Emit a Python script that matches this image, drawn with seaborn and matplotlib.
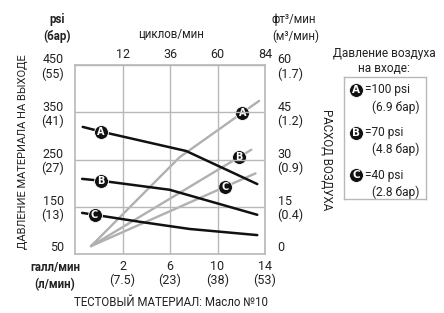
import numpy as np
import pandas as pd
import matplotlib
matplotlib.use("Agg")
import matplotlib.pyplot as plt
import seaborn as sns

# ---- data ----
curves = ["A", "B", "C"]
# fluid outlet pressure (psi) vs flow (gpm)
press_A_gpm = [-1.35, 0.2, 7.36, 13.35]
press_A_psi = [319, 309, 268, 198]
press_B_gpm = [-1.4, 0.2, 5.96, 13.35]
press_B_psi = [209, 205, 186, 133]
press_C_gpm = [-1.4, -0.35, 3.5, 7.64, 13.35]
press_C_psi = [137, 133, 118, 103, 90]
# air consumption (scfm) vs flow (gpm)
air_A_gpm = [-0.65, 6.8, 13.5]
air_A_scfm = [2.5, 30.7, 48.6]
air_B_gpm = [-0.65, 12.85]
air_B_scfm = [2.5, 33.1]
air_C_gpm = [-0.65, 13.2]
air_C_scfm = [2.5, 25.6]

gpm_ticks = [2, 6, 10, 14]
gpm_labels = ["2\n(7.5)", "6\n(23)", "10\n(38)", "14\n(53)"]
cpm_ticks = [12, 36, 60, 84]
psi_ticks = [50, 150, 250, 350, 450]
psi_labels = ["50", "150\n(13)", "250\n(27)", "350\n(41)", "450\n(55)"]
scfm_ticks = [0, 15, 30, 45, 60]
scfm_labels = ["0", "15\n(0.4)", "30\n(0.9)", "45\n(1.2)", "60\n(1.7)"]
legend_psi = ["=100 psi", "=70 psi", "=40 psi"]
legend_bar = ["(6.9 бар)", "(4.8 бар)", "(2.8 бар)"]

# ---- style ----
sns.set_theme(style="white")
FONT = ["Roboto", "DejaVu Sans"]
plt.rcParams["font.family"] = FONT
TXT = "#222222"
GRID = "#b8b8b8"
GRAY = "#b0b0b0"

W, H = 444, 313
fig = plt.figure(figsize=(W / 100, H / 100), dpi=100)
fig.patch.set_facecolor("white")


def fx(x):
    return x / W


def fy(y):
    return 1 - y / H


ax_l, ax_t, ax_r, ax_b = 75, 65, 265, 254
ax = fig.add_axes([fx(ax_l), fy(ax_b), (ax_r - ax_l) / W, (ax_b - ax_t) / H])
ax.set_xlim(-2, 14)
ax.set_ylim(50, 450)
ax2 = ax.twinx()
ax2.set_ylim(0, 60)

press_df = pd.concat([
    pd.DataFrame({"gpm": press_A_gpm, "val": press_A_psi, "curve": "A"}),
    pd.DataFrame({"gpm": press_B_gpm, "val": press_B_psi, "curve": "B"}),
    pd.DataFrame({"gpm": press_C_gpm, "val": press_C_psi, "curve": "C"}),
])
air_df = pd.concat([
    pd.DataFrame({"gpm": air_A_gpm, "val": air_A_scfm, "curve": "A"}),
    pd.DataFrame({"gpm": air_B_gpm, "val": air_B_scfm, "curve": "B"}),
    pd.DataFrame({"gpm": air_C_gpm, "val": air_C_scfm, "curve": "C"}),
])

sns.lineplot(data=air_df, x="gpm", y="val", units="curve", estimator=None,
             sort=False, color=GRAY, lw=1.7, ax=ax2, legend=False)
sns.lineplot(data=press_df, x="gpm", y="val", units="curve", estimator=None,
             sort=False, color="#111111", lw=1.8, ax=ax, legend=False)

# grid + frame
ax.set_xticks(gpm_ticks)
ax.set_yticks(psi_ticks)
ax.grid(True, color=GRID, lw=1.0)
for s in ax.spines.values():
    s.set_color(GRID)
    s.set_linewidth(1.2)
for s in ax2.spines.values():
    s.set_visible(False)
ax.set_zorder(2)
ax.patch.set_visible(False)
ax2.set_zorder(1)

FS = 9
ax.set_xticklabels(gpm_labels, fontsize=FS, color=TXT, linespacing=1.1)
ax.set_yticklabels(psi_labels, fontsize=FS, color=TXT, linespacing=1.1)
ax.tick_params(axis="x", length=0, pad=4)
ax.tick_params(axis="y", length=0, pad=8)
for t in ax.get_yticklabels():
    t.set_multialignment("right")
ax2.set_yticks(scfm_ticks)
ax2.set_yticklabels(scfm_labels, fontsize=FS, color=TXT, linespacing=1.1)
ax2.tick_params(axis="y", length=0, pad=9)
ax.yaxis.get_major_ticks()[0].label1.set_va("bottom")
ax2.yaxis.get_major_ticks()[0].label2.set_va("bottom")
ax.set_xlabel("")
ax.set_ylabel("")
ax2.set_ylabel("")

top = ax.secondary_xaxis("top", functions=(lambda g: g * 6, lambda c: c / 6))
top.set_xticks(cpm_ticks)
top.set_xticklabels([str(c) for c in cpm_ticks], fontsize=FS, color=TXT)
top.tick_params(length=0, pad=3)
top.spines["top"].set_visible(False)


def badge(axis, x, y, letter, fs=7):
    axis.plot([x], [y], "o", ms=10, mfc="#111111", mec="white", mew=0.6, zorder=5)
    axis.text(x, y, letter, color="white", fontsize=fs, fontweight="bold",
              family=["DejaVu Sans"], ha="center", va="center", zorder=6)


# badges on pressure curves
press_sets = [(press_A_gpm, press_A_psi), (press_B_gpm, press_B_psi), (press_C_gpm, press_C_psi)]
press_badge_x = [0.2, 0.2, -0.35]
for (gx, gv), bx, c in zip(press_sets, press_badge_x, curves):
    badge(ax, bx, np.interp(bx, gx, gv), c)
air_sets = [(air_A_gpm, air_A_scfm), (air_B_gpm, air_B_scfm), (air_C_gpm, air_C_scfm)]
air_badge_x = [12.1, 11.8, 10.65]
for (gx, gv), bx, c in zip(air_sets, air_badge_x, curves):
    badge(ax2, bx, np.interp(bx, gx, gv), c)

# axis titles / units
SFS = 8.3
fig.text(fx(57), fy(28), "psi\n(бар)", ha="center", va="center", fontsize=SFS,
         color=TXT, linespacing=1.3, fontweight="bold")
fig.text(fx(171), fy(35), "циклов/мин", ha="center", va="center", fontsize=SFS, color=TXT)
fig.text(fx(272), fy(28), "фт³/мин\n(м³/мин)", ha="left", va="center", fontsize=SFS,
         color=TXT, linespacing=1.3)
fig.text(fx(55), fy(276), "галл/мин\n(л/мин)", ha="center", va="center", fontsize=SFS,
         color=TXT, linespacing=1.3, fontweight="bold")
fig.text(fx(171), fy(302), "ТЕСТОВЫЙ МАТЕРИАЛ: Масло №10", ha="center", va="center",
         fontsize=8.3, color=TXT)
fig.text(fx(23), fy(152), "ДАВЛЕНИЕ МАТЕРИАЛА НА ВЫХОДЕ", rotation=90, ha="center",
         va="center", fontsize=8, color=TXT)
fig.text(fx(327), fy(160), "РАСХОД ВОЗДУХА", rotation=270, ha="center",
         va="center", fontsize=8.3, color=TXT)

# legend
fig.text(fx(384), fy(61), "Давление воздуха\nна входе:", ha="center", va="center",
         fontsize=8.6, color=TXT, linespacing=1.25)
lax = fig.add_axes([fx(344), fy(199), (426 - 344) / W, (199 - 77) / H])
lax.set_xlim(0, 82)
lax.set_ylim(122, 0)
lax.set_xticks([])
lax.set_yticks([])
for s in lax.spines.values():
    s.set_color(GRID)
    s.set_linewidth(1.0)
for i, c in enumerate(curves):
    y0 = 13 + i * 42.5
    badge(lax, 12, y0, c, fs=7.5)
    lax.text(21, y0, legend_psi[i], ha="left", va="center", fontsize=8.6, color=TXT)
    lax.text(28, y0 + 17, legend_bar[i], ha="left", va="center", fontsize=8.6, color=TXT)

fig.savefig("out.png", dpi=100, facecolor="white")
